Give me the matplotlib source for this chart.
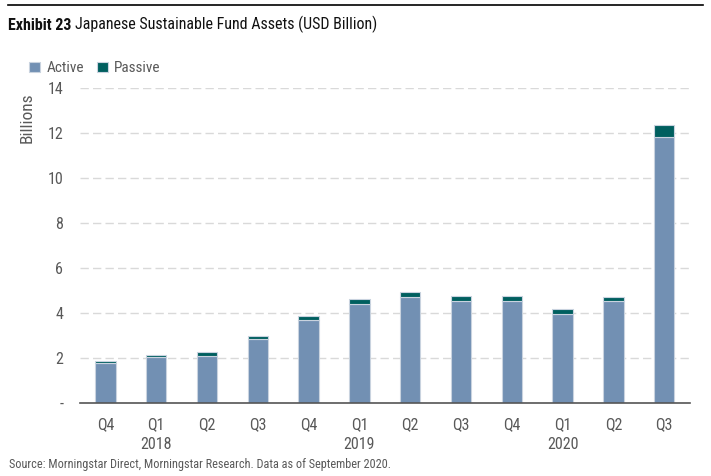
import matplotlib.pyplot as plt
from matplotlib import font_manager
from matplotlib.offsetbox import TextArea, HPacker, AnchoredOffsetbox

quarters = ["Q4", "Q1", "Q2", "Q3", "Q4", "Q1", "Q2", "Q3", "Q4", "Q1", "Q2", "Q3"]
years = {1: "2018", 5: "2019", 9: "2020"}
active = [1.76, 2.03, 2.10, 2.83, 3.69, 4.39, 4.70, 4.53, 4.53, 3.94, 4.53, 11.81]
passive = [0.12, 0.12, 0.18, 0.16, 0.19, 0.22, 0.23, 0.24, 0.24, 0.24, 0.20, 0.53]

names = set(f.name for f in font_manager.fontManager.ttflist)
fam = "Roboto"
for cand in ["Roboto Condensed", "Archivo Narrow", "PT Sans Narrow", "Liberation Sans Narrow", "Pragati Narrow"]:
    if cand in names:
        fam = cand
        break
plt.rcParams['font.family'] = [fam, 'DejaVu Sans']

c_active = "#7290b3"
c_passive = "#005f5f"
grey = "#595959"

fig = plt.figure(figsize=(7.11, 4.76), dpi=100)
ax = fig.add_axes([0.1125, 0.1534, 0.8575, 0.6616])

x = list(range(len(quarters)))
ax.bar(x, active, width=0.4, color=c_active, edgecolor="#c9d3df", linewidth=0.8, zorder=3, label="Active")
ax.bar(x, passive, width=0.4, bottom=active, color=c_passive, edgecolor="#c9d3df", linewidth=0.8, zorder=3, label="Passive")

ax.set_xlim(-0.5, 11.5)
ax.set_ylim(0, 14)
ax.set_yticks(range(0, 15, 2))
ax.set_yticklabels(["-"] + [str(v) for v in range(2, 15, 2)])
ax.set_xticks(x)
ax.set_xticklabels(quarters)
ax.tick_params(length=0, labelsize=11.5, colors=grey, pad=12)
ax.tick_params(axis='x', pad=10)
for sp in ["top", "right", "left"]:
    ax.spines[sp].set_visible(False)
ax.spines["bottom"].set_color("#555555")
ax.spines["bottom"].set_linewidth(1.2)
ax.spines["bottom"].set_zorder(4)
ax.yaxis.grid(True, color="#d9d9d9", linestyle=(0, (6, 3)), linewidth=1, zorder=0)

for i, yr in years.items():
    ax.text(i, -1.5, yr, ha="center", va="top", fontsize=11.5, color=grey)

ax.set_ylabel("Billions", fontsize=12.5, color=grey)
ax.yaxis.set_label_coords(-0.075, 0.905)

fig.legend(loc="upper left", bbox_to_anchor=(0.022, 0.9), ncol=2, frameon=False,
           handlelength=0.7, handleheight=0.7, handletextpad=0.4, columnspacing=0.9,
           prop={"size": 11}, labelcolor=grey)

fig.add_artist(plt.Line2D([0.011, 0.989], [0.989, 0.989], color="black", linewidth=1.2))
t1 = TextArea("Exhibit 23", textprops=dict(fontsize=11.5, fontweight="bold", color="#111111"))
t2 = TextArea("Japanese Sustainable Fund Assets (USD Billion)", textprops=dict(fontsize=11.5, color="#111111"))
box = HPacker(children=[t1, t2], align="baseline", pad=0, sep=3)
anch = AnchoredOffsetbox(loc="center left", child=box, pad=0, frameon=False,
                         bbox_to_anchor=(0.011, 0.948), bbox_transform=fig.transFigure, borderpad=0)
fig.add_artist(anch)
fig.text(0.012, 0.025, "Source: Morningstar Direct, Morningstar Research. Data as of September 2020.",
         fontsize=8.8, color=grey, va="center")

fig.savefig("out.png", dpi=100)
